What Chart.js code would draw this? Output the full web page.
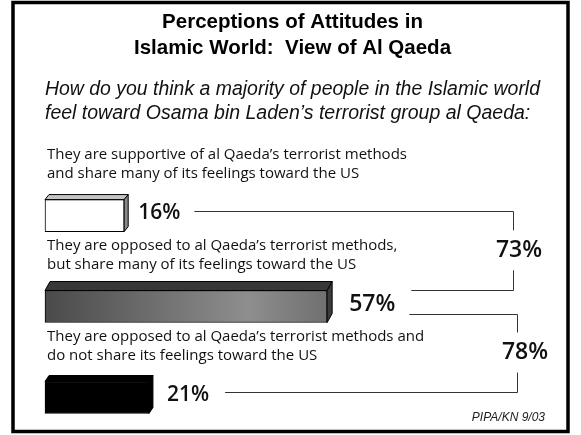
<!DOCTYPE html>
<html><head><meta charset="utf-8">
<script src="https://cdn.jsdelivr.net/npm/chart.js@4.4.1/dist/chart.umd.min.js"></script>
<style>html,body{margin:0;padding:0;background:#fff}#wrap{width:581px;height:435px}</style>
</head><body><div id="wrap"><canvas id="c" width="581" height="435"></canvas></div>
<script>
// ---- data ----
const titleLines = ["Perceptions of Attitudes in", "Islamic World:  View of Al Qaeda"];
const subtitleLines = ["How do you think a majority of people in the Islamic world",
                       "feel toward Osama bin Laden\u2019s terrorist group al Qaeda:"];
const categories = [
  ["They are supportive of al Qaeda\u2019s terrorist methods", "and share many of its feelings toward the US"],
  ["They are opposed to al Qaeda\u2019s terrorist methods,", "but share many of its feelings toward the US"],
  ["They are opposed to al Qaeda\u2019s terrorist methods and", "do not share its feelings toward the US"]
];
const values = [16, 57, 21];
const combinedValues = [73, 78];          // 16+57, 57+21
const sourceNote = "PIPA/KN 9/03";

// ---- styles ----
const FONT_NUM = '"Open Sans", "DejaVu Sans", sans-serif';
const FONT_TXT = '"Open Sans", "Liberation Sans", sans-serif';
const FONT_HEAD = '"Liberation Sans", Arial, sans-serif';

const framePlugin = {
  id: 'frame',
  beforeDraw(chart) {
    const ctx = chart.ctx;
    ctx.save();
    ctx.fillStyle = '#fff';
    ctx.fillRect(0, 0, chart.width, chart.height);
    ctx.restore();
  },
  afterDraw(chart) {
    const ctx = chart.ctx;
    ctx.save();
    ctx.strokeStyle = '#000';
    ctx.lineWidth = 3.5;
    ctx.strokeRect(13, 2.5, 555, 429);
    ctx.font = 'italic 12px ' + FONT_HEAD;
    ctx.fillStyle = '#222';
    ctx.textAlign = 'right';
    ctx.textBaseline = 'middle';
    ctx.fillText(sourceNote, 545, 418);
    ctx.restore();
  }
};

const threeDPlugin = {
  id: 'threeD',
  afterDatasetsDraw(chart, args, o) {
    const ctx = chart.ctx;
    const meta = chart.getDatasetMeta(0);
    meta.data.forEach((bar, i) => {
      const p = bar.getProps(['x', 'y', 'base', 'height'], true);
      const t = p.y - p.height / 2, b = p.y + p.height / 2;
      const dx = o.dx[i], dy = o.dy[i];
      ctx.save();
      ctx.lineWidth = 1;
      ctx.strokeStyle = '#000';
      ctx.lineJoin = 'round';
      ctx.beginPath();
      ctx.moveTo(p.base, t); ctx.lineTo(p.base + dx, t - dy);
      ctx.lineTo(p.x + dx, t - dy); ctx.lineTo(p.x, t); ctx.closePath();
      ctx.fillStyle = o.top[i]; ctx.fill(); ctx.stroke();
      ctx.beginPath();
      ctx.moveTo(p.x, t); ctx.lineTo(p.x + dx, t - dy);
      ctx.lineTo(p.x + dx, b - dy); ctx.lineTo(p.x, b); ctx.closePath();
      ctx.fillStyle = o.side[i]; ctx.fill(); ctx.stroke();
      ctx.restore();
    });
  }
};

const annotPlugin = {
  id: 'annot',
  afterDatasetsDraw(chart, args, o) {
    const ctx = chart.ctx;
    const meta = chart.getDatasetMeta(0);
    const area = chart.chartArea;
    ctx.save();
    // category texts
    ctx.fillStyle = '#111';
    ctx.font = '15px ' + FONT_TXT;
    ctx.textAlign = 'left';
    ctx.textBaseline = 'middle';
    meta.data.forEach((bar, i) => {
      categories[i].forEach((line, k) => {
        ctx.fillText(line, area.left + 2, bar.y + o.catOffsets[k]);
      });
    });
    // value labels
    const textY = [], textEnd = [];
    meta.data.forEach((bar, i) => {
      ctx.font = '600 ' + o.sizes[i] + 'px ' + FONT_NUM;
      const tx = bar.x + o.gaps[i];
      const ty = bar.y - 2.5;
      ctx.fillStyle = '#111';
      ctx.fillText(values[i] + '%', tx, ty);
      textY.push(ty);
      textEnd.push(tx + ctx.measureText(values[i] + '%').width);
    });
    // connectors and brackets
    ctx.strokeStyle = '#333';
    ctx.lineWidth = 1;
    combinedValues.forEach((v, k) => {
      const bx = area.right - o.bracketInset[k];
      const yA = k === 0 ? textY[0] - 2 : textY[1] + 9.5;
      const yB = k === 0 ? textY[1] - 14.5 : textY[2] - 3.5;
      const xA = textEnd[k] + 14;
      const xB = textEnd[k + 1] + 16;
      const mid = (yA + yB) / 2;
      ctx.beginPath();
      ctx.moveTo(xA, Math.round(yA) + 0.5); ctx.lineTo(bx + 0.5, Math.round(yA) + 0.5);
      ctx.lineTo(bx + 0.5, mid - 20);
      ctx.moveTo(bx + 0.5, mid + 20); ctx.lineTo(bx + 0.5, Math.round(yB) + 0.5);
      ctx.lineTo(xB, Math.round(yB) + 0.5);
      ctx.stroke();
      ctx.font = '600 23px ' + FONT_NUM;
      ctx.textAlign = 'center';
      ctx.fillStyle = '#111';
      ctx.fillText(v + '%', bx + o.bracketLabelDx[k], mid);
      ctx.textAlign = 'left';
    });
    ctx.restore();
  }
};

new Chart(document.getElementById('c'), {
  type: 'bar',
  data: {
    labels: categories,
    datasets: [{
      data: values,
      barThickness: 32,
      clip: false,
      borderColor: '#000',
      borderWidth: 1,
      borderSkipped: false,
      backgroundColor: (c) => {
        const i = c.dataIndex;
        if (i === 0) return '#ffffff';
        if (i === 2) return '#000000';
        const chart = c.chart;
        if (!chart.chartArea || !chart.scales.x) return '#777';
        const x0 = chart.scales.x.getPixelForValue(0);
        const x1 = chart.scales.x.getPixelForValue(values[1]);
        const g = chart.ctx.createLinearGradient(x0, 0, x1, 0);
        g.addColorStop(0, '#4a4a4a');
        g.addColorStop(0.72, '#8e8e8e');
        g.addColorStop(1, '#707070');
        return g;
      }
    }]
  },
  options: {
    indexAxis: 'y',
    responsive: false,
    devicePixelRatio: 1,
    animation: false,
    events: [],
    layout: { padding: { left: 45, right: 41, top: 0, bottom: 37.5 } },
    scales: {
      x: { type: 'linear', min: 0, max: 100, display: false },
      y: { type: 'category', offset: false, display: false }
    },
    plugins: {
      legend: { display: false },
      tooltip: { enabled: false },
      title: {
        display: true,
        text: titleLines,
        color: '#000',
        font: { family: FONT_HEAD, size: 20.5, weight: 'bold', lineHeight: 1.27 },
        padding: { top: 9, bottom: 0 }
      },
      subtitle: {
        display: true,
        text: subtitleLines,
        align: 'start',
        color: '#111',
        font: { family: FONT_HEAD, size: 19.5, style: 'italic', weight: 'normal', lineHeight: 24 / 19.5 },
        padding: { top: 17, bottom: 89.5 }
      },
      threeD: {
        dx: [4, 5, 4], dy: [5, 9, 6],
        top: ['#c4c4c4', '#383838', '#000'], side: ['#8a8a8a', '#3c3c3c', '#000']
      },
      annot: {
        catOffsets: [-61, -42],
        sizes: [21, 23, 21],
        gaps: [14, 22, 18],
        bracketInset: [27, 23],
        bracketLabelDx: [6, 8]
      }
    }
  },
  plugins: [framePlugin, threeDPlugin, annotPlugin]
});
</script>
</body></html>
